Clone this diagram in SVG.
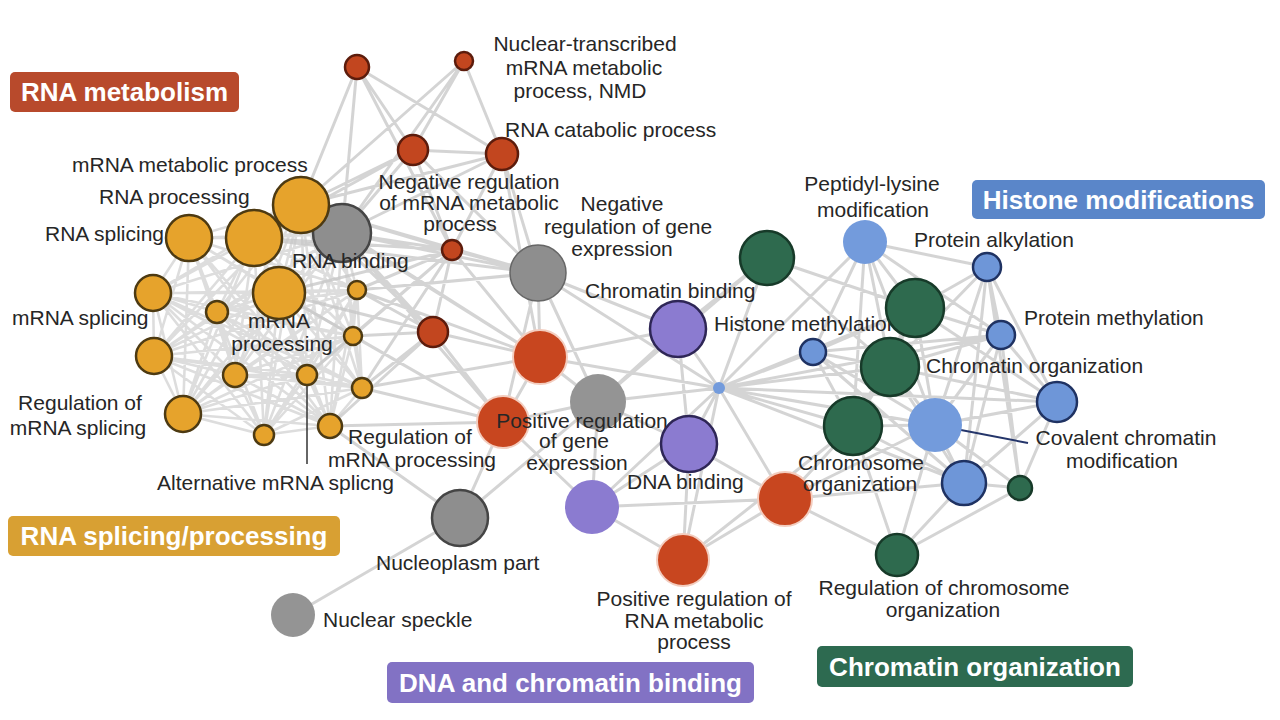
<svg xmlns="http://www.w3.org/2000/svg" width="1280" height="720" viewBox="0 0 1280 720">
<style>
.e{stroke:#c6c6c6;stroke-width:3;fill:none;stroke-opacity:.75;stroke-linecap:round}
.em{stroke:#cfcfcf;stroke-width:2.6;fill:none;stroke-opacity:.7}
.o{fill:#E6A32C;stroke:#4d3a12;stroke-width:2.5}
.r{fill:#C2461F;stroke:#5c1c0c;stroke-width:2.5}
.rl{fill:#C8461F;stroke:#f3cdbf;stroke-width:2}
.g{fill:#8e8e8e;stroke:#454545;stroke-width:2.5}
.gl{fill:#949494}
.p{fill:#8B7BD0;stroke:#2e2656;stroke-width:2.5}
.pl{fill:#8B7BD0}
.b{fill:#6E96D8;stroke:#1f3262;stroke-width:2.5}
.bl{fill:#739bdc}
.n{fill:#2E6A4E;stroke:#173a29;stroke-width:2.5}
.t{font-family:"Liberation Sans",Arial,sans-serif;font-size:21px;fill:#262626}
.m{text-anchor:middle}
.h{font-family:"Liberation Sans",Arial,sans-serif;font-size:26px;font-weight:bold;fill:#fff;text-anchor:middle}
.ld{stroke:#333;stroke-width:1.5;fill:none}
</style>
<rect width="1280" height="720" fill="#fff"/>
<g id="connectors">
<path class="em" d="M301 205L254 238M301 205L189 238M301 205L279 293M301 205L153 293M301 205L217 312M301 205L357 290M301 205L154 356M301 205L235 375M301 205L307 375M301 205L353 336M301 205L362 388M301 205L183 414M301 205L264 435M301 205L330 426
M254 238L189 238M254 238L279 293M254 238L153 293M254 238L217 312M254 238L357 290M254 238L154 356M254 238L235 375M254 238L307 375M254 238L353 336M254 238L362 388M254 238L183 414M254 238L264 435M254 238L330 426M254 238L342 233
M189 238L279 293M189 238L153 293M189 238L217 312M189 238L357 290M189 238L154 356M189 238L235 375M189 238L307 375M189 238L353 336M189 238L183 414M189 238L264 435M189 238L330 426M189 238L342 233
M279 293L153 293M279 293L217 312M279 293L357 290M279 293L154 356M279 293L235 375M279 293L307 375M279 293L353 336M279 293L362 388M279 293L183 414M279 293L264 435M279 293L330 426M279 293L342 233
M153 293L217 312M153 293L357 290M153 293L154 356M153 293L235 375M153 293L307 375M153 293L353 336M153 293L362 388M153 293L183 414M153 293L264 435M153 293L330 426M153 293L342 233
M217 312L357 290M217 312L154 356M217 312L235 375M217 312L307 375M217 312L353 336M217 312L362 388M217 312L183 414M217 312L264 435M217 312L330 426M217 312L342 233
M357 290L154 356M357 290L235 375M357 290L307 375M357 290L353 336M357 290L362 388M357 290L183 414M357 290L264 435M357 290L330 426M357 290L342 233
M154 356L235 375M154 356L307 375M154 356L353 336M154 356L362 388M154 356L183 414M154 356L264 435M154 356L330 426M154 356L342 233
M235 375L307 375M235 375L353 336M235 375L362 388M235 375L183 414M235 375L264 435M235 375L330 426M235 375L342 233
M307 375L353 336M307 375L362 388M307 375L183 414M307 375L264 435M307 375L330 426M307 375L342 233
M353 336L362 388M353 336L183 414M353 336L264 435M353 336L330 426M353 336L342 233
M362 388L183 414M362 388L264 435M362 388L330 426M362 388L342 233
M183 414L264 435M183 414L330 426M183 414L342 233M264 435L330 426M264 435L342 233M330 426L342 233"/>
<path class="e" d="M357 67L301 205M357 67L342 233M357 67L413 150M357 67L502 154M357 67L452 250
M464 61L301 205M464 61L413 150M464 61L502 154M464 61L342 233
M413 150L301 205M413 150L342 233M413 150L502 154M413 150L452 250M413 150L254 238M413 150L538 273
M502 154L301 205M502 154L342 233M502 154L452 250M502 154L538 273M502 154L540 357
M452 250L301 205M452 250L279 293M452 250L357 290M452 250L353 336M452 250L342 233M452 250L538 273M452 250L433 332M452 250L540 357M452 250L254 238M452 250L307 375M452 250L362 388
M342 233L538 273M342 233L540 357M342 233L433 332M342 233L503 422
M433 332L301 205M433 332L357 290M433 332L353 336M433 332L362 388M433 332L279 293M433 332L540 357M433 332L503 422M433 332L330 426
M540 357L357 290M540 357L301 205M540 357L362 388M540 357L503 422M540 357L598 402M540 357L538 273M540 357L678 329M540 357L719 388
M503 422L362 388M503 422L330 426M503 422L353 336M503 422L598 402M503 422L592 507M503 422L460 518M503 422L538 273M503 422L279 293
M538 273L301 205M538 273L254 238M538 273L678 329M538 273L598 402M538 273L719 388M538 273L357 290
M598 402L678 329M598 402L689 444M598 402L719 388M598 402L592 507M598 402L460 518M598 402L767 258
M460 518L293 615M460 518L330 426
M678 329L689 444M678 329L719 388M678 329L767 258
M719 388L689 444M719 388L767 258M719 388L865 242M719 388L813 352M719 388L890 367M719 388L853 426M719 388L935 425M719 388L785 499M719 388L915 308M719 388L1001 335M719 388L1057 402M719 388L592 507M719 388L683 560M719 388L964 483
M689 444L592 507M689 444L785 499M689 444L683 560
M592 507L683 560M592 507L785 499
M683 560L785 499M683 560L853 426
M785 499L853 426M785 499L897 555M785 499L964 483M785 499L935 425
M767 258L915 308M767 258L890 367
M865 242L987 267M865 242L915 308M865 242L890 367M865 242L935 425M865 242L813 352M865 242L853 426M865 242L1001 335
M987 267L915 308M987 267L1001 335M987 267L1057 402M987 267L890 367M987 267L935 425M987 267L964 483M987 267L1020 488
M1001 335L915 308M1001 335L890 367M1001 335L1057 402M1001 335L935 425M1001 335L813 352M1001 335L964 483M1001 335L1020 488
M813 352L890 367M813 352L915 308M813 352L935 425M813 352L853 426M813 352L964 483
M915 308L890 367M915 308L935 425M915 308L1057 402M915 308L853 426
M890 367L935 425M890 367L853 426M890 367L1057 402M890 367L964 483
M853 426L935 425M853 426L964 483M853 426L897 555
M935 425L1057 402M935 425L964 483M935 425L1020 488M935 425L897 555
M1057 402L1020 488M1057 402L964 483M964 483L1020 488M964 483L897 555M1020 488L897 555"/>
<path class="ld" d="M307 385V464"/>
<path d="M935 425L1028 443" stroke="#24356a" stroke-width="2" fill="none"/>
</g>
<g id="legend-rna-metabolism"><rect x="10" y="72" width="229" height="40" rx="5" fill="#B84A2C"/><text class="h" x="124.5" y="101">RNA metabolism</text></g>
<g id="legend-rna-splicing"><rect x="8" y="516" width="332" height="40" rx="5" fill="#D8A033"/><text class="h" x="174" y="545">RNA splicing/processing</text></g>
<g id="legend-histone"><rect x="972" y="180" width="293" height="39" rx="5" fill="#5A86C9"/><text class="h" x="1118.5" y="209">Histone modifications</text></g>
<g id="legend-chromatin"><rect x="817" y="646" width="316" height="41" rx="5" fill="#2D6A50"/><text class="h" x="975" y="676">Chromatin organization</text></g>
<g id="legend-dna"><rect x="387" y="662" width="367" height="41" rx="5" fill="#8272C4"/><text class="h" x="570.5" y="692">DNA and chromatin binding</text></g>

<g id="r1"><circle class="r" cx="357" cy="67" r="12"/></g>
<g id="r2"><circle class="r" cx="464" cy="61" r="9"/><text class="t m" x="585" y="51">Nuclear-transcribed</text><text class="t m" x="584" y="75">mRNA metabolic</text><text class="t m" x="580" y="98">process, NMD</text></g>
<g id="r3"><circle class="r" cx="413" cy="150" r="15"/><text class="t m" x="469" y="189">Negative regulation</text><text class="t m" x="469" y="210">of mRNA metabolic</text><text class="t m" x="460" y="231">process</text></g>
<g id="r4"><circle class="r" cx="502" cy="154" r="16"/><text class="t" x="505" y="137">RNA catabolic process</text></g>
<g id="r5"><circle class="r" cx="452" cy="250" r="10"/></g>
<g id="r6"><circle class="r" cx="433" cy="332" r="15"/></g>
<g id="o2"><circle class="o" cx="254" cy="238" r="28"/><text class="t" x="99" y="204">RNA processing</text></g>
<g id="o3"><circle class="o" cx="189" cy="238" r="23"/><text class="t" x="45" y="241">RNA splicing</text></g>
<g id="g1"><circle class="g" cx="342" cy="233" r="29"/><text class="t" x="292" y="268">RNA binding</text></g>
<g id="o1"><circle class="o" cx="301" cy="205" r="28"/><text class="t" x="72" y="172">mRNA metabolic process</text></g>
<g id="o4"><text class="t m" x="279" y="328">mRNA</text><text class="t m" x="282" y="351">processing</text><circle class="o" cx="279" cy="293" r="26"/></g>
<g id="o5"><circle class="o" cx="153" cy="293" r="18"/><text class="t" x="12" y="325">mRNA splicing</text></g>
<g id="o6"><circle class="o" cx="217" cy="312" r="11"/></g>
<g id="o7"><circle class="o" cx="357" cy="290" r="9"/></g>
<g id="o8"><circle class="o" cx="154" cy="356" r="18"/></g>
<g id="o9"><circle class="o" cx="235" cy="375" r="12"/></g>
<g id="o10"><circle class="o" cx="307" cy="375" r="10"/><text class="t" x="157" y="490">Alternative mRNA splicng</text></g>
<g id="o11"><circle class="o" cx="353" cy="336" r="9"/></g>
<g id="o12"><circle class="o" cx="362" cy="388" r="10"/></g>
<g id="o13"><circle class="o" cx="183" cy="414" r="18"/><text class="t m" x="80" y="410">Regulation of</text><text class="t m" x="78" y="435">mRNA splicing</text></g>
<g id="o14"><circle class="o" cx="264" cy="435" r="10"/></g>
<g id="o15"><circle class="o" cx="330" cy="426" r="12"/><text class="t m" x="410" y="444">Regulation of</text><text class="t m" x="412" y="467">mRNA processing</text></g>
<g id="g2"><circle class="g" cx="538" cy="273" r="28" style="stroke:#666;stroke-width:1.5"/><text class="t m" x="622" y="211">Negative</text><text class="t m" x="628" y="234">regulation of gene</text><text class="t m" x="622" y="256">expression</text></g>
<g id="r7"><circle class="rl" cx="540" cy="357" r="27"/></g>
<g id="g3"><circle class="gl" cx="598" cy="402" r="28"/></g>
<g id="r8"><circle class="rl" cx="503" cy="422" r="26"/><text class="t m" x="582" y="428">Positive regulation</text><text class="t m" x="574" y="448">of gene</text><text class="t m" x="577" y="470">expression</text></g>
<g id="g4"><circle class="g" cx="460" cy="518" r="28"/><text class="t" x="376" y="570">Nucleoplasm part</text></g>
<g id="g5"><circle class="gl" cx="293" cy="615" r="22"/><text class="t" x="323" y="627">Nuclear speckle</text></g>
<g id="p1"><circle class="p" cx="678" cy="329" r="28"/><text class="t" x="585" y="298">Chromatin binding</text></g>
<g id="p2"><circle class="p" cx="689" cy="444" r="28"/><text class="t" x="627" y="489">DNA binding</text></g>
<g id="p3"><circle class="pl" cx="592" cy="507" r="27"/></g>
<g id="r10"><circle class="rl" cx="683" cy="560" r="26"/><text class="t m" x="694" y="606">Positive regulation of</text><text class="t m" x="694" y="628">RNA metabolic</text><text class="t m" x="694" y="649">process</text></g>
<g id="r9"><circle class="rl" cx="785" cy="499" r="27"/></g>
<g id="b5"><circle class="bl" cx="719" cy="388" r="6"/></g>
<g id="e1"><circle class="n" cx="767" cy="258" r="27"/></g>
<g id="b1"><circle class="bl" cx="865" cy="242" r="22"/><text class="t m" x="872" y="191">Peptidyl-lysine</text><text class="t m" x="873" y="217">modification</text></g>
<g id="b2"><circle class="b" cx="987" cy="267" r="14"/><text class="t" x="914" y="247">Protein alkylation</text></g>
<g id="b3"><circle class="b" cx="1001" cy="335" r="14"/><text class="t" x="1024" y="325">Protein methylation</text></g>
<g id="b4"><circle class="b" cx="813" cy="352" r="13"/><text class="t" x="714" y="331">Histone methylation</text></g>
<g id="e2"><circle class="n" cx="915" cy="308" r="29"/></g>
<g id="e3"><circle class="n" cx="890" cy="367" r="29"/><text class="t" x="926" y="373">Chromatin organization</text></g>
<g id="b6"><circle class="bl" cx="935" cy="425" r="27"/><text class="t m" x="1126" y="445">Covalent chromatin</text><text class="t m" x="1122" y="468">modification</text></g>
<g id="e4"><circle class="n" cx="853" cy="426" r="29"/><text class="t m" x="861" y="470">Chromosome</text><text class="t m" x="860" y="491">organization</text></g>
<g id="b7"><circle class="b" cx="1057" cy="402" r="20"/></g>
<g id="b8"><circle class="b" cx="964" cy="483" r="22"/></g>
<g id="e5"><circle class="n" cx="1020" cy="488" r="12"/></g>
<g id="e6"><circle class="n" cx="897" cy="555" r="21"/><text class="t m" x="944" y="595">Regulation of chromosome</text><text class="t m" x="943" y="617">organization</text></g>
</svg>
